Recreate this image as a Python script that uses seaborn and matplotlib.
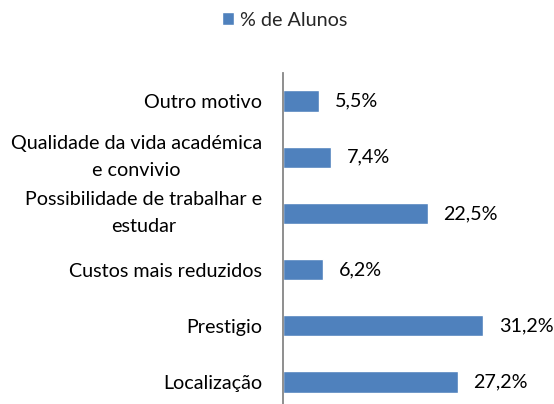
import matplotlib
matplotlib.use("Agg")
import matplotlib.pyplot as plt
import pandas as pd
import seaborn as sns

motivos = [
    "Outro motivo",
    "Qualidade da vida académica\ne convivio",
    "Possibilidade de trabalhar e\nestudar",
    "Custos mais reduzidos",
    "Prestigio",
    "Localização",
]
pct_alunos = [5.5, 7.4, 22.5, 6.2, 31.2, 27.2]
serie = "% de Alunos"

BAR_COLOR = "#4F81BD"
AXIS_COLOR = "#868686"
FS = 14.2

sns.set_theme(style="white")
plt.rcParams["font.family"] = ["Lato", "DejaVu Sans"]

df = pd.DataFrame({"motivo": motivos, "pct": pct_alunos})

fig = plt.figure(figsize=(5.54, 4.04), dpi=100)
ax = fig.add_axes([283.5 / 554, -6 / 404, 256 / 554, 337 / 404])

sns.barplot(data=df, x="pct", y="motivo", orient="h", color=BAR_COLOR,
            width=0.38, saturation=1, label=serie, ax=ax)

ax.set_xlim(0, 40)
ax.set(xlabel="", ylabel="")
ax.set_xticks([])
for side in ["top", "right", "bottom"]:
    ax.spines[side].set_visible(False)
ax.spines["left"].set_color(AXIS_COLOR)
ax.spines["left"].set_linewidth(1.3)

ax.tick_params(axis="y", length=0, pad=15.5, colors="black", labelsize=FS)

ax.bar_label(ax.containers[0],
             labels=[f"{v:.1f}%".replace(".", ",") for v in pct_alunos],
             padding=11.5, fontsize=FS, color="black")

handles, labels = ax.get_legend_handles_labels()
if ax.get_legend():
    ax.get_legend().remove()
fig.legend(handles, labels, loc="center", bbox_to_anchor=(0.514, 0.95),
           frameon=False, fontsize=FS, handlelength=0.6, handleheight=0.6,
           handletextpad=0.3)

# multi-line labels centred on themselves, like the original
fig.canvas.draw()
for tick in ax.yaxis.get_major_ticks():
    tick.label1.set_multialignment("center")
    tick.label1.set_linespacing(1.72)
    if "\n" in tick.label1.get_text():
        tick.label1.set_verticalalignment("center")

fig.savefig("out.png", dpi=100)
